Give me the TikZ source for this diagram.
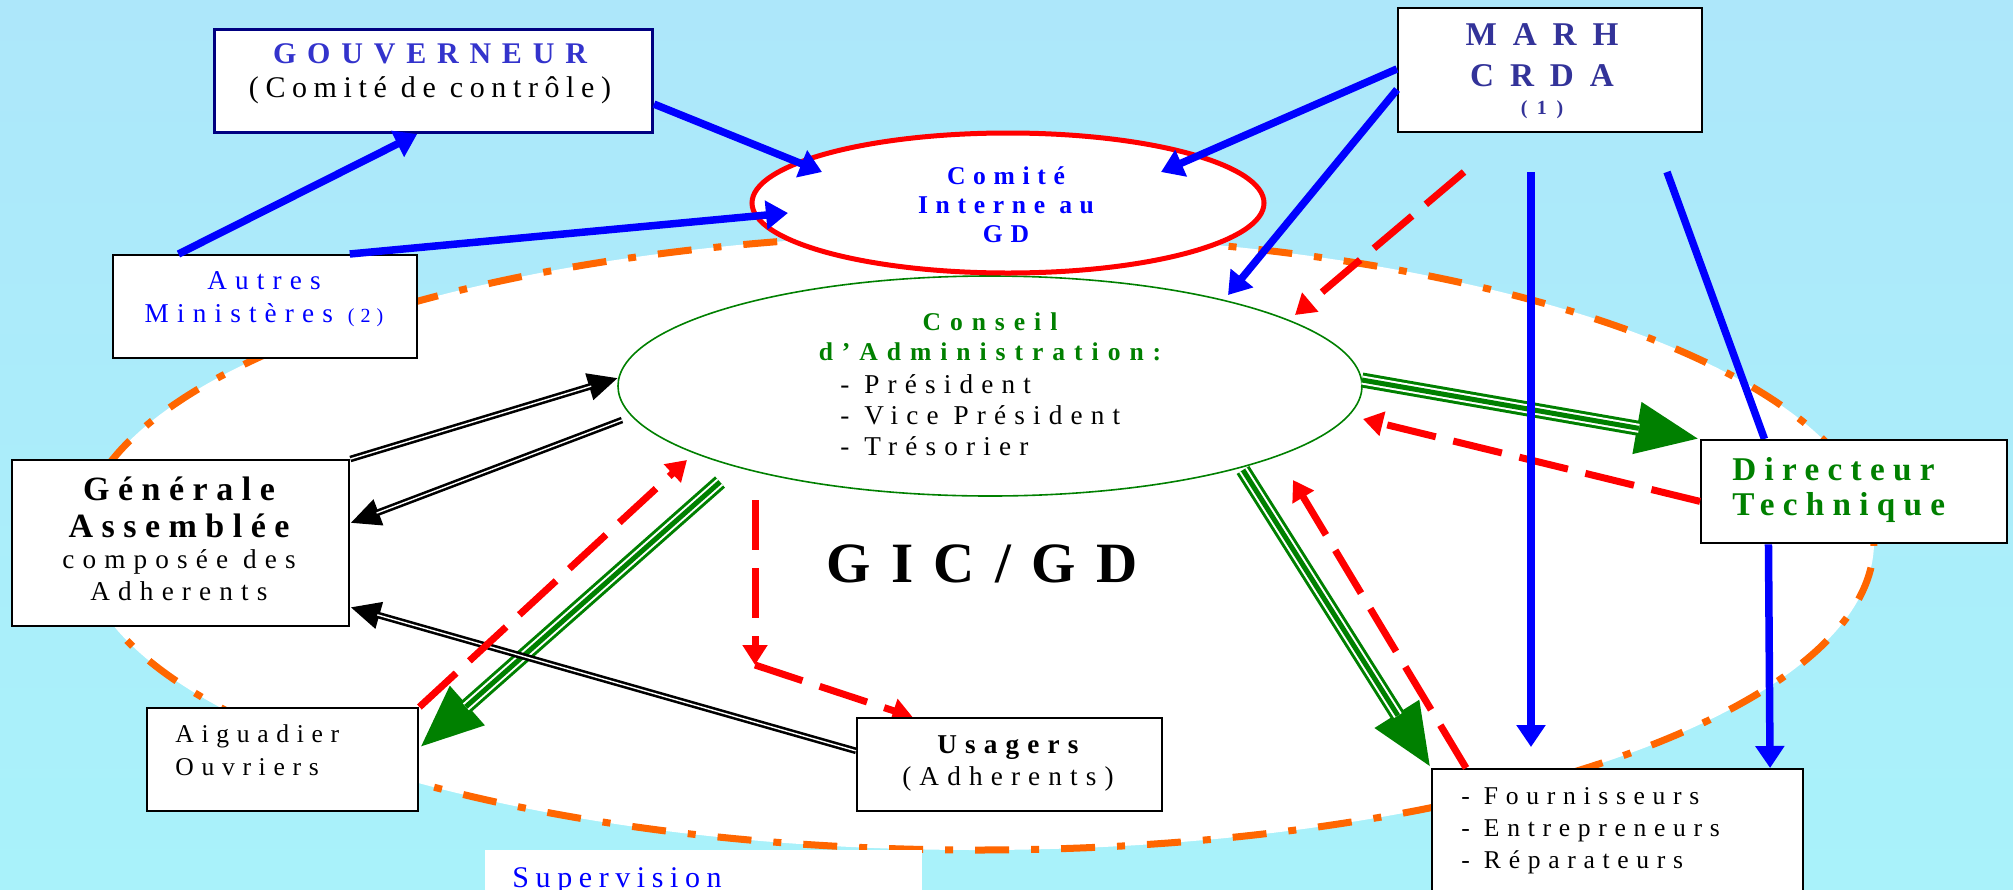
\documentclass[tikz,border=0pt]{standalone}
\usepackage{fontspec}
\setmainfont{Liberation Serif}
\newfontfamily\lsS[LetterSpace=22]{Liberation Serif}
\newfontfamily\lsA[LetterSpace=30]{Liberation Serif}
\newfontfamily\lsB[LetterSpace=30]{Liberation Serif}
\newfontfamily\lsF[LetterSpace=35]{Liberation Serif}
\newfontfamily\lsE[LetterSpace=25]{Liberation Serif}
\newfontfamily\lsC[LetterSpace=48]{Liberation Serif}
\newfontfamily\lsD[LetterSpace=36]{Liberation Serif}
\usetikzlibrary{shapes.geometric,arrows.meta,calc}
\pgfdeclarelayer{bg}
\pgfdeclarelayer{under}
\pgfsetlayers{bg,under,main}
\definecolor{bgtop}{RGB}{173,231,250}
\definecolor{bgbot}{RGB}{169,242,250}
\definecolor{orng}{RGB}{255,102,0}
\definecolor{blu}{RGB}{0,0,255}
\definecolor{rd}{RGB}{255,0,0}
\definecolor{grn}{RGB}{0,128,0}
\definecolor{navy}{RGB}{0,0,128}
\definecolor{gouvblue}{RGB}{51,51,204}
\definecolor{marhblue}{RGB}{51,51,153}
\begin{document}
\begin{tikzpicture}[x=0.5pt,y=-0.5pt,
  box/.style={draw=black,line width=1.2pt,fill=white,rectangle,inner sep=0pt,anchor=north west},
  txt/.style={inner sep=0pt,anchor=base},
  blueline/.style={draw=blu,line width=3.75pt},
  bluearrow/.style={draw=blu,line width=3.75pt,-{Triangle[length=11pt,width=14pt]}},
  redarrow/.style={draw=rd,line width=3.5pt,dash pattern=on 25pt off 9pt,-{Triangle[length=10pt,width=12pt]}},
  blackdouble/.style={draw=black,line width=3.3pt,-{Triangle[length=15pt,width=13pt]},postaction={draw=white,line width=0.7pt,-,shorten >=14pt}},
  greentriple/.style={draw=grn,line width=7.5pt,-{Triangle[length=32pt,width=24pt]},postaction={draw=white,line width=4.5pt,-,shorten >=31pt},postaction={draw=grn,line width=2.5pt,-,shorten >=31pt}},
]
\useasboundingbox (0,0) rectangle (2013,889);
\begin{pgfonlayer}{bg}
\shade[top color=bgtop,bottom color=bgbot] (0,0) rectangle (2013,889);
% GIC/GD area
\node[ellipse,draw=orng,line width=3.5pt,dash pattern=on 17pt off 11pt on 4pt off 11pt,fill=white,minimum width=897pt,minimum height=308pt,inner sep=0pt] (gic) at (977,542) {};
\node[fill=white,inner sep=0pt,anchor=north west,minimum width=218.5pt,minimum height=30pt] (supbox) at (485,850) {};
\node[txt,anchor=base west,text=blu,font=\lsS\fontsize{15}{17}\selectfont] (sup) at (512,887) {Supervision};
\node[ellipse,draw=grn,line width=0.8pt,fill=white,minimum width=372pt,minimum height=110pt,inner sep=0pt] (conseil) at (990,386) {};
\node[ellipse,draw=rd,line width=2.5pt,fill=white,minimum width=256pt,minimum height=70pt,inner sep=0pt] (comite) at (1008,203) {};
\node[txt,align=center,text=blu,font=\lsB\bfseries\fontsize{12.8}{14.5}\selectfont] (comiteT) at (1006,242) {Comité\\Interne au\\GD};
\node[txt,align=center,text=grn,font=\lsF\bfseries\fontsize{12.8}{15}\selectfont] (conseilT) at (990,360) {Conseil\\d’Administration:};
\node[txt,anchor=base west,align=left,font=\lsA\fontsize{13.6}{15.5}\selectfont] (conseilL) at (840,455) {- Président\\- Vice Président\\- Trésorier};
\node[txt,font=\lsD\bfseries\fontsize{28.5}{30}\selectfont] (gicT) at (982,582) {GIC/GD};
\end{pgfonlayer}

% boxes
\node[box,draw=navy,line width=1.5pt,minimum width=219pt,minimum height=51.5pt] (gouv) at (213,28) {};
\node[txt,align=center,font=\fontsize{15}{17}\selectfont] (gouvT) at (430,97) {{\lsD\bfseries\color{gouvblue}GOUVERNEUR}\\{\lsS (Comité de contrôle)}};

\node[box,minimum width=152pt,minimum height=51.5pt] (autres) at (112,254) {};
\node[txt,align=center,text=blu,font=\lsA\fontsize{13.6}{16.5}\selectfont] (autresT) at (264,322) {Autres\\Ministères {\fontsize{10}{12}\selectfont(2)}};

\node[box,minimum width=152pt,minimum height=62pt] (marh) at (1397,7) {};
\node[txt,align=center,text=marhblue,font=\lsC\bfseries\fontsize{16.6}{19}\selectfont] (marhT) at (1542,114) {MARH\\[1.5pt]CRDA\\[-5pt]{\fontsize{10}{12}\selectfont(1)}};

\node[box,minimum width=168.5pt,minimum height=83pt] (gen) at (11,459) {};
\node[txt,align=center,font=\fontsize{13.6}{16}\selectfont] (genT) at (179,600) {{\lsE\bfseries\fontsize{17}{18.5}\selectfont Générale}\\[2.5pt]{\lsE\bfseries\fontsize{17}{18.5}\selectfont Assemblée}\\[-0.5pt]{\lsA composée des}\\{\lsA Adherents}};

\node[box,minimum width=135.5pt,minimum height=51.5pt] (aig) at (146,707) {};
\node[txt,anchor=base west,align=left,font=\lsA\fontsize{12.8}{16.5}\selectfont] (aigT) at (175,775) {Aiguadier\\Ouvriers};

\node[box,minimum width=152.5pt,minimum height=46.5pt] (usag) at (856,717) {};
\node[txt,align=center,font=\fontsize{13.6}{16}\selectfont] (usagT) at (1008,785) {{\lsB\bfseries Usagers}\\{\lsA (Adherents)}};

\node[box,minimum width=153pt,minimum height=51.5pt] (dir) at (1700,439) {};
\node[txt,anchor=base west,align=left,text=grn,font=\lsE\bfseries\fontsize{16.6}{17.5}\selectfont] (dirT) at (1732,515) {Directeur\\Technique};

\node[box,minimum width=185.5pt,minimum height=70pt] (four) at (1431,768) {};
\node[txt,anchor=base west,align=left,font=\lsA\fontsize{12.8}{16}\selectfont] (fourT) at (1461,868) {- Fournisseurs\\- Entrepreneurs\\- Réparateurs};

% arrows passing behind boxes
\begin{pgfonlayer}{under}
\coordinate (r16a) at ($(conseil.center)+(-235,114)$);
\coordinate (r16b) at (755,665);
\draw[redarrow] (r16a) -- (r16b);
\draw[redarrow] (r16b) -- ($(usag.north west)!0.184!(usag.north east)$);
\coordinate (b7) at (1667,172);
\draw[blueline] (b7) -- ($(dir.north west)!0.209!(dir.north east)$);
\end{pgfonlayer}

% green triple arrows
\draw[greentriple] ($(conseil.center)+(372,-6)$) -- (dir.north west);
\draw[greentriple] ($(conseil.center)+(-270,96)$) -- ($(aig.north east)!0.388!(aig.south east)$);
\draw[greentriple] ($(conseil.center)+(253,84)$) -- (four.north west);

% black double arrows
\draw[blackdouble] (gen.north east) -- ($(conseil.center)+(-372,-8)$);
\draw[blackdouble] ($(conseil.center)+(-368,34)$) -- ($(gen.north east)!0.38!(gen.south east)$);
\draw[blackdouble] ($(usag.north west)!0.355!(usag.south west)$) -- ($(gen.north east)!0.88!(gen.south east)$);

% red dashed arrows
\coordinate (r8) at (1464,172);
\draw[redarrow] (r8) -- ($(conseil.center)+(305,-71)$);
\draw[redarrow] ($(dir.north west)!0.592!(dir.south west)$) -- ($(conseil.center)+(373,33)$);
\draw[redarrow] (aig.north east) -- ($(conseil.center)+(-303,74)$);
\draw[redarrow] ($(four.north west)!0.094!(four.north east)$) -- ($(conseil.center)+(303,94)$);

% blue arrows
\draw[bluearrow] ($(autres.north west)!0.217!(autres.north east)$) -- ($(gouv.south west)!0.463!(gouv.south east)$);
\draw[bluearrow] ($(autres.north west)!0.776!(autres.north east)$) -- ($(comite.center)+(-220,10)$);
\draw[bluearrow] ($(gouv.north east)!0.718!(gouv.south east)$) -- ($(comite.center)+(-186,-31)$);
\draw[bluearrow] ($(marh.north west)!0.49!(marh.south west)$) -- ($(comite.center)+(153,-31)$);
\draw[bluearrow] ($(marh.north west)!0.653!(marh.south west)$) -- ($(conseil.center)+(238,-91)$);
\coordinate (b6a) at (1531,172);
\coordinate (b6b) at (1531,747);
\draw[bluearrow] (b6a) -- (b6b);
\draw[bluearrow] ($(dir.south west)!0.222!(dir.south east)$) -- ($(four.north west)!0.908!(four.north east)$);
\end{tikzpicture}
\end{document}
